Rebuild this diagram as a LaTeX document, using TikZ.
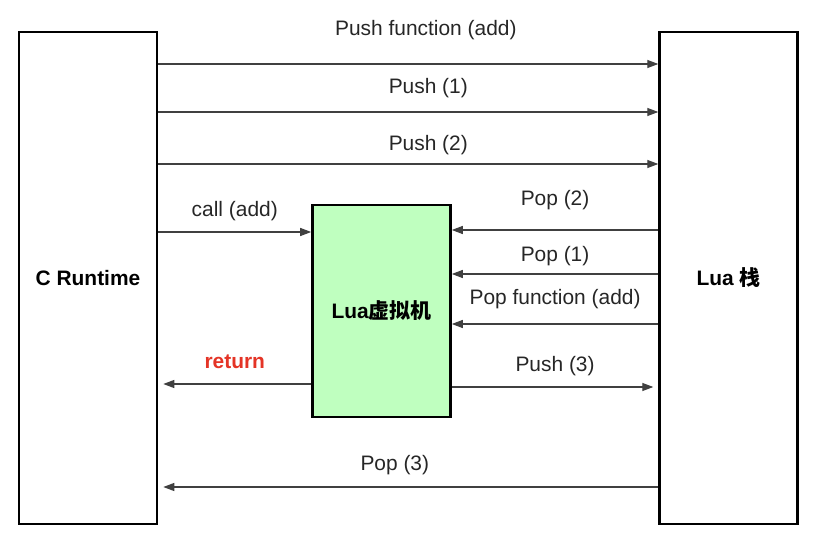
\documentclass[tikz,border=0pt]{standalone}
\usepackage{fontspec}
\setmainfont{Liberation Sans}
\newfontfamily\cjk{Noto Sans CJK SC}
\usetikzlibrary{positioning}
\usetikzlibrary{arrows.meta}

\tikzset{
	box/.style={draw, line width=2.6bp, minimum width=138bp, minimum height=492bp, inner sep=0pt, font=\fontsize{21}{25}\selectfont\bfseries},
	vmbox/.style={box, fill=green!25, minimum height=212bp},
	flow/.style={line width=1.2bp, draw=black!75, -{Triangle[length=11bp,width=8bp]}},
	lbl/.style={inner sep=0pt, text=black!85}
}

\begin{document}
\begin{tikzpicture}[x=1bp, y=-1bp, font=\fontsize{21}{25}\selectfont]
	\useasboundingbox (0,0) rectangle (827,542);

	\node [box] (crt) at (88,278) {C Runtime};
	\node [box, right=500bp of crt] (stack) {Lua {\cjk\bfseries 栈}};
	\node [vmbox] (vm) at (381.5,311) {Lua{\cjk\bfseries 虚拟机}};

	% C runtime -> stack
	\draw[flow] (crt.east |- 0,64) -- node[lbl, pos=.535, yshift=34bp] (l1) {Push function (add)} (stack.west |- 0,64);
	\draw[flow] (crt.east |- 0,112) -- node[lbl, pos=.54, yshift=24bp] (l2) {Push (1)} (stack.west |- 0,112);
	\draw[flow] (crt.east |- 0,164) -- node[lbl, pos=.54, yshift=19bp] (l3) {Push (2)} (stack.west |- 0,164);
	\draw[flow] (crt.east |- 0,232) -- node[lbl, yshift=21bp] (l4) {call (add)} (vm.west |- 0,232);

	% stack <-> vm
	\draw[flow] (stack.west |- 0,230) -- node[lbl, yshift=30bp] (l5) {Pop (2)} (vm.east |- 0,230);
	\draw[flow] (stack.west |- 0,274) -- node[lbl, yshift=18bp] (l6) {Pop (1)} (vm.east |- 0,274);
	\draw[flow] (stack.west |- 0,324) -- node[lbl, yshift=25bp] (l7) {Pop function (add)} (vm.east |- 0,324);
	\draw[flow, shorten >=5bp] (vm.east |- 0,387) -- node[lbl, yshift=21bp] (l8) {Push (3)} (stack.west |- 0,387);

	% back to C runtime
	\draw[flow, shorten >=5bp] (vm.west |- 0,384) -- node[lbl, yshift=22bp, text={rgb,255:red,228;green,52;blue,38}, font=\fontsize{21}{25}\selectfont\bfseries] (l9) {return} (crt.east |- 0,384);
	\draw[flow, shorten >=5bp] (stack.west |- 0,487) -- node[lbl, pos=.527, yshift=22bp] (l10) {Pop (3)} (crt.east |- 0,487);
\end{tikzpicture}
\end{document}
